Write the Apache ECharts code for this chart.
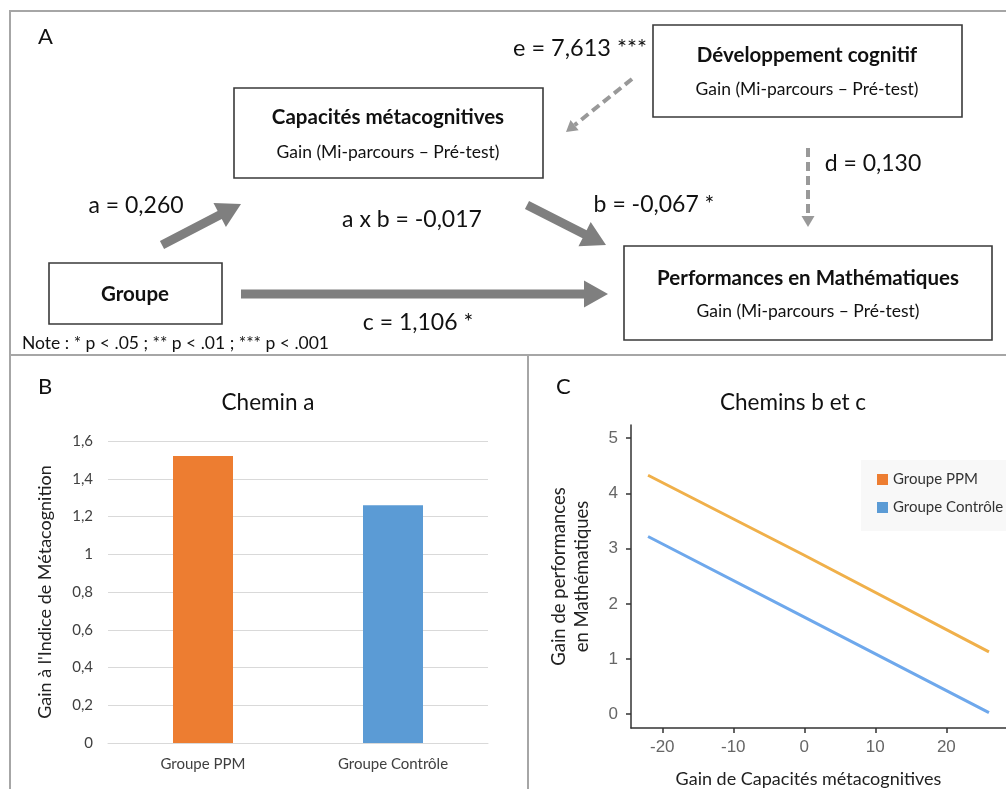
<!DOCTYPE html>
<html lang="fr">
<head>
<meta charset="UTF-8">
<title>Médiation : capacités métacognitives et mathématiques</title>
<script src="https://cdn.jsdelivr.net/npm/echarts@6/dist/echarts.min.js"></script>
<style>
  html, body { margin: 0; padding: 0; background: #fff; }
  #main { width: 1006px; height: 789px; }
</style>
</head>
<body>
<div id="main"></div>
<script>
// --- données ---
// B : chemin a
var groupes = ['Groupe PPM', 'Groupe Contrôle'];
var gainMeta = [1.52, 1.26];
var couleursGroupes = ['#ED7D31', '#5B9BD5'];

// C : chemins b et c (droites)
var gainCapacites = [-22, 0, 26];
var perfPPM = [4.33, 2.88, 1.13];
var perfControle = [3.22, 1.76, 0.03];
var ticksX = [-20, -10, 0, 10, 20];
var ticksY = [0, 1, 2, 3, 4, 5];

// A : coefficients du modèle
var coefNoms = ['a', 'b', 'c', 'd', 'e', 'a x b'];
var coefValeurs = ['0,260', '-0,067 *', '1,106 *', '0,130', '7,613 ***', '-0,017'];

var myChart = echarts.init(document.getElementById('main'));

var FONT = 'Lato, "Open Sans", sans-serif';
var GRIS_FLECHE = '#7f7f7f';

// polygone de flèche pleine
function fleche(x1, y1, x2, y2, corps, longTete, largTete) {
    var dx = x2 - x1, dy = y2 - y1, L = Math.sqrt(dx * dx + dy * dy);
    var ux = dx / L, uy = dy / L, nx = -uy, ny = ux;
    var bx = x2 - ux * longTete, by = y2 - uy * longTete;
    var s = corps / 2, h = largTete / 2;
    return [
        [x1 + nx * s, y1 + ny * s], [bx + nx * s, by + ny * s], [bx + nx * h, by + ny * h],
        [x2, y2],
        [bx - nx * h, by - ny * h], [bx - nx * s, by - ny * s], [x1 - nx * s, y1 - ny * s]
    ];
}

function flechePleine(x1, y1, x2, y2) {
    return { type: 'polygon', shape: { points: fleche(x1, y1, x2, y2, 9, 24, 27) },
             style: { fill: GRIS_FLECHE } };
}

function flecheTirets(x1, y1, x2, y2) {
    var dx = x2 - x1, dy = y2 - y1, L = Math.sqrt(dx * dx + dy * dy);
    var bx = x2 - dx / L * 11, by = y2 - dy / L * 11;
    return [
        { type: 'line', shape: { x1: x1, y1: y1, x2: bx, y2: by },
          style: { stroke: '#999', lineWidth: 4, lineDash: [9, 5] } },
        { type: 'polygon', shape: { points: fleche(bx, by, x2, y2, 0.1, 11, 13).slice(1, 6) },
          style: { fill: '#999' } }
    ];
}

function boite(x, y, w, h) {
    return { type: 'rect', shape: { x: x, y: y, width: w, height: h },
             style: { fill: '#fff', stroke: '#3a3a3a', lineWidth: 1.6 } };
}

function texte(t, x, y, taille, gras, align, couleur) {
    return { type: 'text', style: { text: t, x: x, y: y, fontSize: taille,
             fontFamily: FONT, fontWeight: gras ? 'bold' : 'normal',
             align: align || 'center', verticalAlign: 'middle', fill: couleur || '#111' } };
}

function coef(i) { return coefNoms[i] + ' = ' + coefValeurs[i]; }

var elements = [
    // cadres
    { type: 'polyline', shape: { points: [[10, 789], [10, 11], [1006, 11]] },
      style: { stroke: '#a6a6a6', lineWidth: 2, fill: null } },
    { type: 'line', shape: { x1: 10, y1: 355, x2: 1006, y2: 355 }, style: { stroke: '#a6a6a6', lineWidth: 2 } },
    { type: 'line', shape: { x1: 528, y1: 355, x2: 528, y2: 789 }, style: { stroke: '#a6a6a6', lineWidth: 2 } },

    boite(653, 25, 309, 92),
    boite(234, 88, 309, 90),
    boite(624, 246, 368, 94),
    boite(49, 263, 173, 61),

    texte('A', 38, 37, 22, false, 'left'),
    texte('B', 38, 387, 22, false, 'left'),
    texte('C', 556, 387, 22, false, 'left'),

    texte('Développement cognitif', 807, 55, 20.5, true),
    texte('Gain (Mi-parcours – Pré-test)', 807, 89, 17.5),
    texte('Capacités métacognitives', 388, 117, 20.5, true),
    texte('Gain (Mi-parcours – Pré-test)', 388, 152, 17.5),
    texte('Performances en Mathématiques', 808, 278, 20.5, true),
    texte('Gain (Mi-parcours – Pré-test)', 808, 311, 17.5),
    texte('Groupe', 135, 294, 20.5, true),

    texte(coef(0), 136, 206, 23),
    texte(coef(5), 412, 220, 23),
    texte(coef(1), 654, 205, 23),
    texte(coef(3), 873, 164, 23),
    texte(coef(2), 418, 323, 23),
    texte(coef(4), 580, 48, 23.5),
    texte('Note : * p < .05 ; ** p < .01 ; *** p < .001', 22, 343, 17.5, false, 'left'),

    flechePleine(162, 245, 241, 204),
    flechePleine(527, 205, 606, 245),
    flechePleine(241, 294, 608, 294)
].concat(flecheTirets(632, 79, 566, 132), flecheTirets(808, 148, 808, 227));

var pointsPPM = gainCapacites.map(function (x, i) { return [x, perfPPM[i]]; });
var pointsControle = gainCapacites.map(function (x, i) { return [x, perfControle[i]]; });

var option = {
    animation: false,
    title: [
        { text: 'Chemin a', left: 263, top: 398, textAlign: 'center', textVerticalAlign: 'middle',
          textStyle: { fontFamily: FONT, fontSize: 22.5, fontWeight: 'normal', color: '#111' } },
        { text: 'Chemins b et c', left: 788, top: 398, textAlign: 'center', textVerticalAlign: 'middle',
          textStyle: { fontFamily: FONT, fontSize: 22.5, fontWeight: 'normal', color: '#111' } }
    ],
    legend: {
        orient: 'vertical', left: 861, top: 460, icon: 'rect',
        itemWidth: 11, itemHeight: 11, itemGap: 13,
        padding: [12, 20, 16, 16], backgroundColor: '#f8f8f8',
        textStyle: { fontFamily: FONT, fontSize: 15, color: '#333' },
        data: [
            { name: 'Groupe PPM', itemStyle: { color: couleursGroupes[0] } },
            { name: 'Groupe Contrôle', itemStyle: { color: couleursGroupes[1] } }
        ]
    },
    grid: [
        { left: 108, top: 441, width: 380, height: 302 },
        { left: 631, top: 425, right: 0, height: 303 }
    ],
    xAxis: [
        {
            gridIndex: 0, type: 'category', data: groupes,
            axisLine: { lineStyle: { color: '#d9d9d9' } }, axisTick: { show: false },
            axisLabel: { margin: 14, fontFamily: FONT, fontSize: 15, color: '#404040' }
        },
        {
            gridIndex: 1, type: 'value', min: -24.4, max: 28.4,
            splitLine: { show: false },
            axisLine: { onZero: false, lineStyle: { color: '#333', width: 1.5 } },
            axisTick: { show: true, length: 5, customValues: ticksX, lineStyle: { color: '#333', width: 1.5 } },
            axisLabel: { customValues: ticksX, margin: 11, fontFamily: '"Liberation Sans", Arial, sans-serif',
                         fontSize: 17, color: '#666' },
            name: 'Gain de Capacités métacognitives', nameLocation: 'middle', nameGap: 42,
            nameTextStyle: { fontFamily: FONT, fontSize: 18, color: '#222', padding: [0, 20, 0, 0] }
        }
    ],
    yAxis: [
        {
            gridIndex: 0, type: 'value', min: 0, max: 1.6, interval: 0.2,
            splitLine: { lineStyle: { color: '#d9d9d9' } },
            axisLine: { show: false }, axisTick: { show: false },
            axisLabel: { margin: 15, fontFamily: FONT, fontSize: 15, color: '#404040',
                         formatter: function (v) { return String(Math.round(v * 10) / 10).replace('.', ','); } },
            name: "Gain à l'Indice de Métacognition", nameLocation: 'middle', nameGap: 54,
            nameTextStyle: { fontFamily: FONT, fontSize: 18, color: '#222' }
        },
        {
            gridIndex: 1, type: 'value', min: -0.25, max: 5.24,
            splitLine: { show: false },
            axisLine: { show: true, onZero: false, lineStyle: { color: '#333', width: 1.5 } },
            axisTick: { show: true, length: 5, customValues: ticksY, lineStyle: { color: '#333', width: 1.5 } },
            axisLabel: { customValues: ticksY, margin: 13, fontFamily: '"Liberation Sans", Arial, sans-serif',
                         fontSize: 17, color: '#666' },
            name: 'Gain de performances\nen Mathématiques', nameLocation: 'middle', nameGap: 37,
            nameTextStyle: { fontFamily: FONT, fontSize: 18.5, color: '#222', lineHeight: 23 }
        }
    ],
    series: [
        {
            type: 'bar', xAxisIndex: 0, yAxisIndex: 0, barWidth: 60,
            data: gainMeta.map(function (v, i) { return { value: v, itemStyle: { color: couleursGroupes[i] } }; })
        },
        {
            name: 'Groupe PPM', type: 'line', xAxisIndex: 1, yAxisIndex: 1, data: pointsPPM,
            showSymbol: false, lineStyle: { width: 3, color: '#F0B04A' }, itemStyle: { color: '#F0B04A' }
        },
        {
            name: 'Groupe Contrôle', type: 'line', xAxisIndex: 1, yAxisIndex: 1, data: pointsControle,
            showSymbol: false, lineStyle: { width: 3, color: '#6EA8EC' }, itemStyle: { color: '#6EA8EC' }
        }
    ],
    graphic: { elements: elements }
};

myChart.setOption(option);
</script>
</body>
</html>
